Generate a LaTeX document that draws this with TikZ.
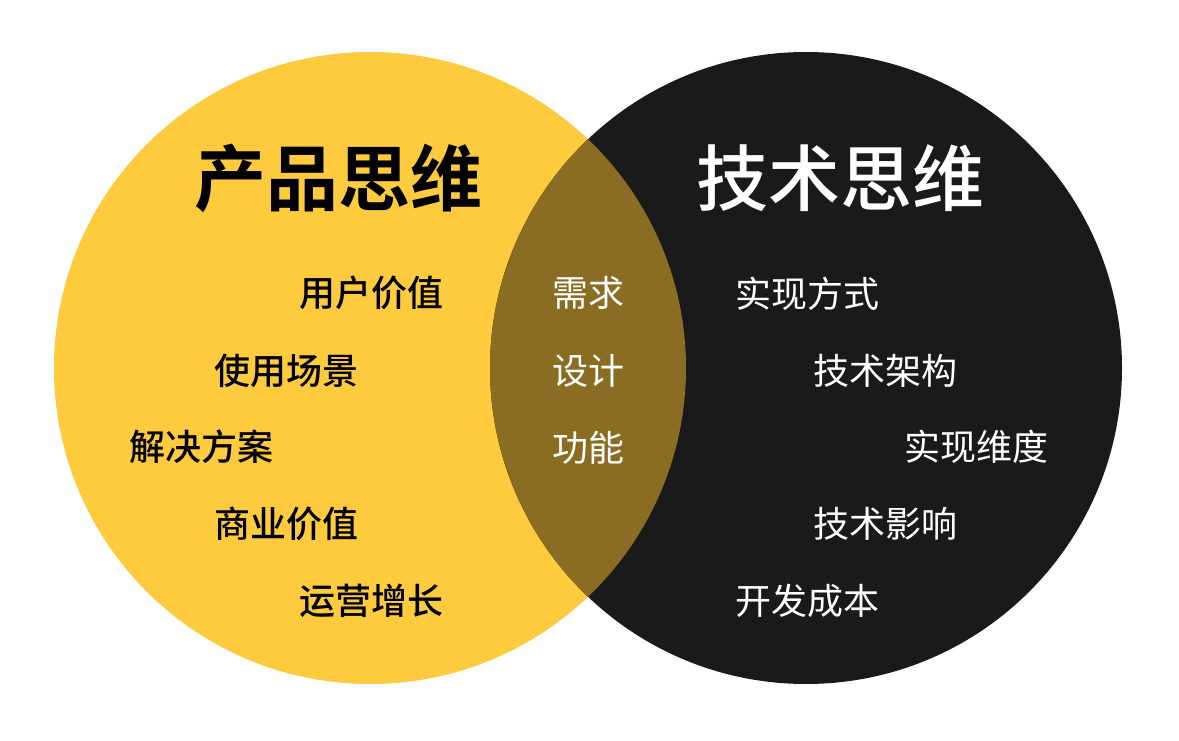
\documentclass[tikz,border=0pt]{standalone}
\usepackage{fontspec}
\newfontfamily\cjk{Noto Sans CJK SC}[BoldFont={Noto Sans CJK SC Bold}]
\newfontfamily\cjkmed{Noto Sans CJK SC Medium}
\definecolor{vyellow}{HTML}{FECB3E}
\definecolor{vblack}{HTML}{1A1A1A}
\definecolor{vover}{HTML}{8A6C23}
\begin{document}
\begin{tikzpicture}[x=1pt,y=-1pt,
  title/.style={font=\cjk\bfseries\fontsize{72}{80}\selectfont, inner sep=0pt},
  titleW/.style={font=\cjkmed\fontsize{72}{80}\selectfont, inner sep=0pt},
  itemL/.style={font=\cjkmed\fontsize{36}{40}\selectfont, inner sep=0pt, text=black},
  itemW/.style={font=\cjk\fontsize{36}{40}\selectfont, inner sep=0pt, text=white},
]
\useasboundingbox (0,0) rectangle (1179,741);
\fill[white] (0,0) rectangle (1179,741);
\fill[vyellow] (370,368) circle[radius=316];
\fill[vblack] (806,368) circle[radius=316];
\begin{scope}
  \clip (370,368) circle[radius=316];
  \fill[vover] (806,368) circle[radius=316];
\end{scope}
\node[title,text=black] (tp) at (338,178) {产品思维};
\node[titleW,text=white] (tt) at (840,178) {技术思维};
\node[itemL] (l1) at (371,293) {用户价值};
\node[itemL] (l2) at (286,371) {使用场景};
\node[itemL] (l3) at (201,447) {解决方案};
\node[itemL] (l4) at (286,524) {商业价值};
\node[itemL] (l5) at (371,601) {运营增长};
\node[itemW] (c1) at (588,293) {需求};
\node[itemW] (c2) at (588,371) {设计};
\node[itemW] (c3) at (588,448) {功能};
\node[itemW] (r1) at (807,294) {实现方式};
\node[itemW] (r2) at (885,371) {技术架构};
\node[itemW] (r3) at (976,447) {实现维度};
\node[itemW] (r4) at (885,524) {技术影响};
\node[itemW] (r5) at (807,601) {开发成本};
\end{tikzpicture}
\end{document}
